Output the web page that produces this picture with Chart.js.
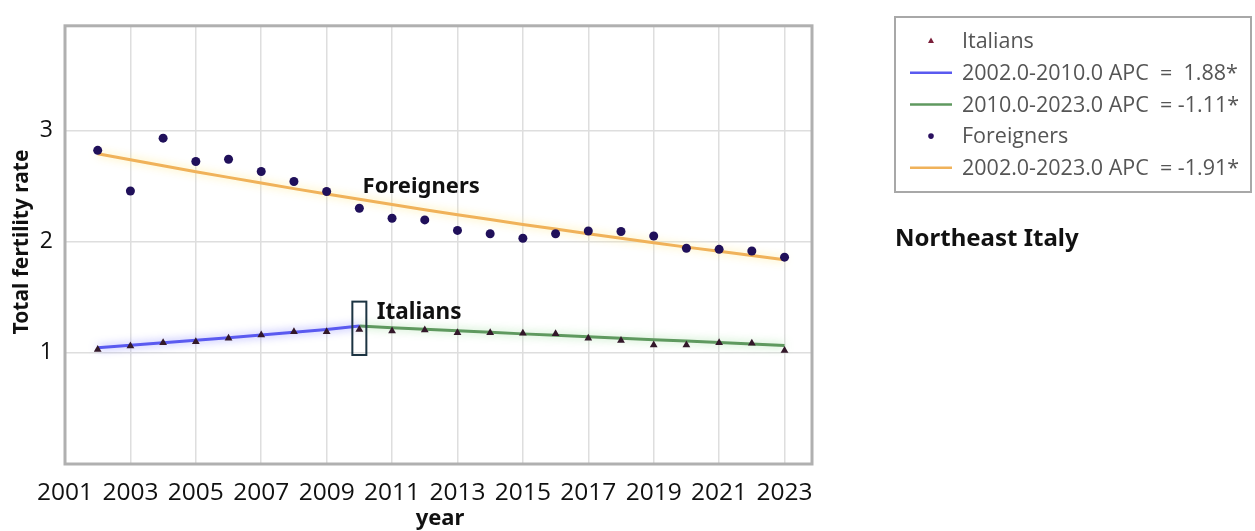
<!DOCTYPE html>
<html>
<head>
<meta charset="utf-8">
<title>Total fertility rate - Northeast Italy</title>
<script src="https://cdn.jsdelivr.net/npm/chart.js@4.4.1/dist/chart.umd.min.js"></script>
<style>
  html, body { margin: 0; padding: 0; background: #fff; }
  #wrap { width: 1255px; height: 531px; position: relative; }
</style>
</head>
<body>
<div id="wrap"><canvas id="tfrChart"></canvas></div>
<script>
// observed total fertility rate, Northeast Italy
const years = [2002, 2003, 2004, 2005, 2006, 2007, 2008, 2009, 2010, 2011, 2012,
               2013, 2014, 2015, 2016, 2017, 2018, 2019, 2020, 2021, 2022, 2023];
const italians = [1.03, 1.06, 1.09, 1.10, 1.13, 1.16, 1.19, 1.19, 1.21, 1.195, 1.205,
                  1.18, 1.18, 1.175, 1.17, 1.13, 1.11, 1.07, 1.07, 1.09, 1.085, 1.02];
const foreigners = [2.82, 2.455, 2.93, 2.72, 2.74, 2.63, 2.54, 2.45, 2.30, 2.21, 2.195,
                    2.10, 2.07, 2.03, 2.07, 2.095, 2.09, 2.05, 1.94, 1.93, 1.915, 1.86];

// joinpoint fitted segments
const italiansSeg1Years = [2002, 2003, 2004, 2005, 2006, 2007, 2008, 2009, 2010];
const italiansSeg1 = [1.045, 1.067, 1.090, 1.113, 1.136, 1.160, 1.184, 1.209, 1.24];
const italiansSeg2Years = [2010, 2011, 2012, 2013, 2014, 2015, 2016, 2017, 2018, 2019, 2020, 2021, 2022, 2023];
const italiansSeg2 = [1.24, 1.226, 1.212, 1.198, 1.184, 1.170, 1.157, 1.144, 1.131, 1.118, 1.105, 1.093, 1.080, 1.065];
const foreignersFit = [2.790, 2.735, 2.681, 2.628, 2.577, 2.526, 2.476, 2.427, 2.380, 2.333, 2.287,
                       2.242, 2.198, 2.154, 2.112, 2.070, 2.029, 1.989, 1.950, 1.912, 1.874, 1.837];

const xTickYears = [2001, 2003, 2005, 2007, 2009, 2011, 2013, 2015, 2017, 2019, 2021, 2023];
const yTickValues = [1, 2, 3];

const legendOrder = [0, 2, 3, 1, 4];
const FONT = '"Open Sans", "Noto Sans", sans-serif';
const BOLD = '"Noto Sans", "Open Sans", sans-serif';

const pts = (xs, ys) => xs.map((x, i) => ({ x: x, y: ys[i] }));

// soft halo behind the fitted lines
const glowPlugin = {
    id: 'glow',
    beforeDatasetDraw(chart, args) {
        const ds = chart.data.datasets[args.index];
        if (!ds.glowColor) return;
        chart.ctx.save();
        chart.ctx.shadowColor = ds.glowColor;
        chart.ctx.shadowBlur = 8;
    },
    afterDatasetDraw(chart, args) {
        const ds = chart.data.datasets[args.index];
        if (ds.glowColor) chart.ctx.restore();
    }
};

// plot frame, group labels, highlight box, legend and titles
const decorPlugin = {
    id: 'decor',
    beforeDatasetsDraw(chart) {
        const { ctx, chartArea: a } = chart;
        ctx.save();
        ctx.strokeStyle = '#b0b0b0';
        ctx.lineWidth = 3;
        ctx.strokeRect(a.left, a.top, a.right - a.left, a.bottom - a.top);
        ctx.restore();
    },
    afterDraw(chart) {
        const { ctx, scales: { x, y } } = chart;
        ctx.save();

        ctx.fillStyle = '#111';
        ctx.textBaseline = 'alphabetic';
        ctx.textAlign = 'left';
        ctx.font = 'bold 22px ' + BOLD;
        ctx.fillText('Foreigners', x.getPixelForValue(2010.1), y.getPixelForValue(2.44));
        ctx.font = 'bold 22.5px ' + BOLD;
        ctx.fillText('Italians', x.getPixelForValue(2010.53), y.getPixelForValue(1.30));

        // box around the 2010 joinpoint
        const cx = x.getPixelForValue(2010);
        ctx.strokeStyle = '#1c3442';
        ctx.lineWidth = 2;
        ctx.strokeRect(cx - 7, y.getPixelForValue(1.46), 14, y.getPixelForValue(0.98) - y.getPixelForValue(1.46));

        // axis titles
        ctx.textAlign = 'center';
        ctx.textBaseline = 'middle';
        ctx.font = 'bold 22px ' + BOLD;
        ctx.fillText('year', 440, 519);
        ctx.save();
        ctx.translate(22, 242);
        ctx.rotate(-Math.PI / 2);
        ctx.font = 'bold 21px ' + BOLD;
        ctx.fillText('Total fertility rate', 0, 0);
        ctx.restore();

        // legend
        ctx.strokeStyle = '#a8a8a8';
        ctx.lineWidth = 2;
        ctx.strokeRect(895, 17, 356, 175);
        ctx.font = '21.5px ' + FONT;
        ctx.textAlign = 'left';
        legendOrder.forEach((di, row) => {
            const ds = chart.data.datasets[di];
            const ly = 41 + row * 31.7;
            if (ds.showLine === false) {
                ctx.fillStyle = ds.legendColor;
                ctx.beginPath();
                if (ds.pointStyle === 'triangle') {
                    ctx.moveTo(931, ly - 3.5);
                    ctx.lineTo(934, ly + 2);
                    ctx.lineTo(928, ly + 2);
                    ctx.closePath();
                } else {
                    ctx.arc(931, ly, 2.8, 0, Math.PI * 2);
                }
                ctx.fill();
            } else {
                ctx.strokeStyle = ds.borderColor;
                ctx.lineWidth = 2.5;
                ctx.beginPath();
                ctx.moveTo(910, ly);
                ctx.lineTo(952, ly);
                ctx.stroke();
            }
            ctx.fillStyle = '#555';
            ctx.fillText(ds.label, 962, ly + 1);
        });

        ctx.fillStyle = '#111';
        ctx.font = 'bold 24px ' + BOLD;
        ctx.textBaseline = 'alphabetic';
        ctx.fillText('Northeast Italy', 895, 246);
        ctx.restore();
    }
};

const ctx = document.getElementById('tfrChart');
const chart = new Chart(ctx, {
    type: 'line',
    data: {
        datasets: [{
            label: 'Italians',
            data: pts(years, italians),
            showLine: false,
            pointStyle: 'triangle',
            pointRadius: 4.5,
            pointBackgroundColor: '#33182a',
            pointBorderColor: '#33182a',
            pointBorderWidth: 0,
            legendColor: '#7a1f3a'
        }, {
            label: 'Foreigners',
            data: pts(years, foreigners),
            showLine: false,
            pointStyle: 'circle',
            pointRadius: 4.5,
            pointBackgroundColor: '#20105a',
            pointBorderColor: '#20105a',
            pointBorderWidth: 0,
            legendColor: '#2a1060'
        }, {
            label: '2002.0-2010.0 APC  =  1.88*',
            data: pts(italiansSeg1Years, italiansSeg1),
            borderColor: '#5a5af0',
            borderWidth: 3,
            pointRadius: 0,
            glowColor: 'rgba(120,120,255,0.8)'
        }, {
            label: '2010.0-2023.0 APC  = -1.11*',
            data: pts(italiansSeg2Years, italiansSeg2),
            borderColor: '#5f995f',
            borderWidth: 3,
            pointRadius: 0,
            glowColor: 'rgba(150,220,150,0.8)'
        }, {
            label: '2002.0-2023.0 APC  = -1.91*',
            data: pts(years, foreignersFit),
            borderColor: '#f0b25a',
            borderWidth: 3,
            pointRadius: 0,
            glowColor: 'rgba(255,235,140,0.9)'
        }]
    },
    options: {
        responsive: true,
        maintainAspectRatio: false,
        animation: false,
        layout: { padding: { left: 0, top: 15, right: 443, bottom: 0 } },
        plugins: {
            legend: { display: false },
            tooltip: { enabled: false }
        },
        scales: {
            x: {
                type: 'linear',
                min: 2001,
                max: 2023.84,
                afterBuildTicks: scale => { scale.ticks = xTickYears.map(v => ({ value: v })); },
                afterFit: scale => { scale.height = 67; },
                grid: { color: '#dedede', lineWidth: 1.5, drawTicks: false },
                border: { display: false },
                ticks: {
                    padding: 14,
                    maxRotation: 0,
                    autoSkip: false,
                    color: '#111',
                    font: { family: FONT, size: 24.5 },
                    callback: v => String(v)
                }
            },
            y: {
                type: 'linear',
                min: 0,
                max: 3.94,
                afterBuildTicks: scale => { scale.ticks = yTickValues.map(v => ({ value: v })); },
                afterFit: scale => { scale.width = 65; },
                grid: { color: '#dedede', lineWidth: 1.5, drawTicks: false },
                border: { display: false },
                ticks: {
                    padding: 12,
                    color: '#111',
                    font: { family: FONT, size: 23 }
                }
            }
        }
    },
    plugins: [glowPlugin, decorPlugin]
});
</script>
</body>
</html>
